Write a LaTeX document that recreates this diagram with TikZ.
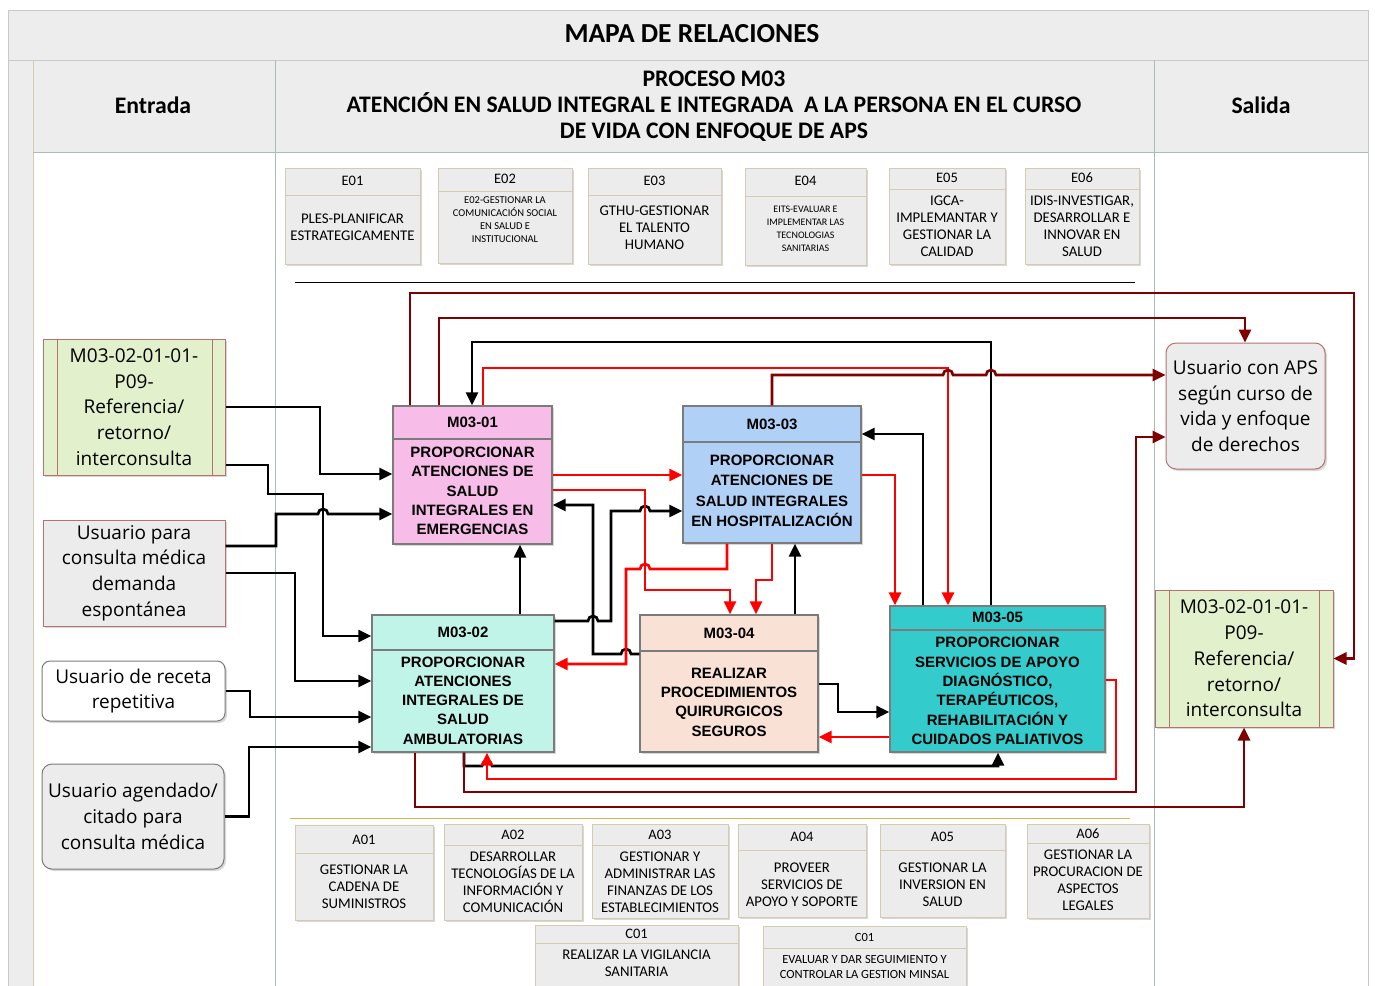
\documentclass[tikz,border=0pt]{standalone}
\usepackage{fontspec}
\setmainfont{Carlito}
\newfontfamily\procfont{Liberation Sans}
\newfontfamily\userfont{Open Sans}
\usetikzlibrary{arrows.meta,shadows}

\definecolor{pinkbox}{HTML}{F7BDE8}
\definecolor{bluebox}{HTML}{B0D0F6}
\definecolor{mintbox}{HTML}{C1F4E8}
\definecolor{peachbox}{HTML}{F9E2D5}
\definecolor{tealbox}{HTML}{33CBCB}
\definecolor{greenbox}{HTML}{E2F0CB}
\definecolor{greybox}{HTML}{ECECEC}
\definecolor{bandgrey}{HTML}{EDEDED}
\definecolor{beigeln}{HTML}{D3CCB2}
\definecolor{frameln}{HTML}{C9C9C9}
\definecolor{colln}{HTML}{A8BDB6}
\definecolor{brownln}{HTML}{B5726E}
\definecolor{procln}{HTML}{7B7B7B}
\definecolor{darkred}{HTML}{7F0000}
\definecolor{goldln}{HTML}{D8B552}

\tikzset{
  supbox/.style={draw=beigeln, fill=greybox, line width=1pt, inner sep=0,
    drop shadow={shadow xshift=2pt, shadow yshift=-2pt, opacity=0.3}},
  supline/.style={draw=beigeln, line width=1pt},
  suplabel/.style={font=\fontsize{14.5}{17}\selectfont, inner sep=0},
  suptxt/.style={font=\fontsize{14.8}{17}\selectfont, align=center, inner sep=0},
  proc/.style={draw=procln, line width=1.2pt, inner sep=0,
    drop shadow={shadow xshift=2pt, shadow yshift=-2pt, opacity=0.3}},
  procline/.style={draw=procln, line width=1.2pt},
  prochead/.style={font=\procfont\bfseries\fontsize{15}{19}\selectfont, inner sep=0},
  proctxt/.style={font=\procfont\bfseries\fontsize{15}{19.3}\selectfont, align=center, inner sep=0},
  usrbox/.style={draw=brownln, line width=1pt, inner sep=0, align=center,
    font=\userfont\fontsize{19}{25.7}\selectfont,
    drop shadow={shadow xshift=2pt, shadow yshift=-2pt, opacity=0.3}},
  hdr/.style={font=\bfseries\fontsize{23.7}{26}\selectfont, align=center, inner sep=0},
  blk/.style={draw=black, line width=2.7pt, -{Triangle[length=13pt,width=12pt]}},
  rd/.style={draw=red, line width=2.7pt, -{Triangle[length=13pt,width=12pt]}},
  drd/.style={draw=darkred, line width=2.7pt, -{Triangle[length=13pt,width=12pt]}}
}

\begin{document}
\begin{tikzpicture}[x=1pt,y=1pt,yscale=-1]
\useasboundingbox (0,0) rectangle (1375,985);
\clip (0,0) rectangle (1375,985);

% marco y cabecera
\fill[white] (0,0) rectangle (1375,985);
\fill[bandgrey] (8,10) rectangle (1368,152);
\fill[bandgrey] (8,152) rectangle (33,990);
\draw[frameln, line width=1pt] (8,10) rectangle (1368,990);
\draw[frameln, line width=1pt] (8,60) -- (1368,60);
\draw[beigeln, line width=1pt] (33,60) -- (33,990);
\draw[colln, line width=1pt] (275,60) -- (275,990);
\draw[colln, line width=1pt] (1154,60) -- (1154,990);
\draw[colln, line width=1pt] (33,152) -- (1368,152);

\node[hdr, font=\bfseries\fontsize{27.5}{30}\selectfont] (titulo) at (692,34) {MAPA DE RELACIONES};
\node[hdr] (entrada) at (153,105) {Entrada};
\node[hdr] (proceso) at (714,106) {PROCESO M03\\ATENCIÓN EN SALUD INTEGRAL E INTEGRADA~ A LA PERSONA EN EL CURSO\\DE VIDA CON ENFOQUE DE APS};
\node[hdr] (salida) at (1261,105) {Salida};

% procesos estrategicos
\node[supbox, minimum width=135, minimum height=96] (e01) at (352.5,216) {};
\draw[supline] (e01.west |- 0,195) -- (e01.east |- 0,195);
\node[suplabel] (e01t) at (352.5,181) {E01};
\node[suptxt] (e01b) at (352.5,227) {PLES-PLANIFICAR\\ESTRATEGICAMENTE};

\node[supbox, minimum width=134, minimum height=95] (e02) at (505,215.5) {};
\draw[supline] (e02.west |- 0,191) -- (e02.east |- 0,191);
\node[suplabel] (e02t) at (505,179) {E02};
\node[suptxt, font=\fontsize{10.5}{13}\selectfont] (e02b) at (505,219.5) {E02-GESTIONAR LA\\COMUNICACIÓN SOCIAL\\EN SALUD E\\INSTITUCIONAL};

\node[supbox, minimum width=133, minimum height=96] (e03) at (654.5,216) {};
\draw[supline] (e03.west |- 0,195) -- (e03.east |- 0,195);
\node[suplabel] (e03t) at (654.5,181) {E03};
\node[suptxt] (e03b) at (654.5,227.5) {GTHU-GESTIONAR\\EL TALENTO\\HUMANO};

\node[supbox, minimum width=121, minimum height=97] (e04) at (805.5,216.5) {};
\draw[supline] (e04.west |- 0,196) -- (e04.east |- 0,196);
\node[suplabel] (e04t) at (805.5,181) {E04};
\node[suptxt, font=\fontsize{10}{13}\selectfont] (e04b) at (805.5,228.5) {EITS-EVALUAR E\\IMPLEMENTAR LAS\\TECNOLOGIAS\\SANITARIAS};

\node[supbox, minimum width=116, minimum height=96] (e05) at (947,216) {};
\draw[supline] (e05.west |- 0,189) -- (e05.east |- 0,189);
\node[suplabel] (e05t) at (947,178) {E05};
\node[suptxt] (e05b) at (947,226) {IGCA-\\IMPLEMANTAR Y\\GESTIONAR LA\\CALIDAD};

\node[supbox, minimum width=114, minimum height=96] (e06) at (1082,216) {};
\draw[supline] (e06.west |- 0,189) -- (e06.east |- 0,189);
\node[suplabel] (e06t) at (1082,178) {E06};
\node[suptxt] (e06b) at (1082,226) {IDIS-INVESTIGAR,\\DESARROLLAR E\\INNOVAR EN\\SALUD};

\draw[black, line width=1pt] (295,282) -- (1135,282);
\draw[goldln, line width=1pt] (290,818) -- (1130,818);

% entradas
\node[usrbox, fill=greenbox, minimum width=182, minimum height=136] (inRef) at (134,407) {M03-02-01-01-\\P09-\\Referencia/\\retorno/\\interconsulta};
\draw[brownln, line width=1pt] (57,339) -- (57,475) (212,339) -- (212,475);
\node[usrbox, fill=greybox, minimum width=182, minimum height=106] (inDem) at (134,573) {Usuario para\\consulta médica\\demanda\\espontánea};
\node[usrbox, draw=procln, fill=white, rounded corners=8pt, minimum width=183, minimum height=60] (inRec) at (133.5,691) {Usuario de receta\\repetitiva};
\node[usrbox, draw=procln, fill=greybox, rounded corners=10pt, minimum width=182, minimum height=105] (inAge) at (133,816.5) {Usuario agendado/\\citado para\\consulta médica};

% salidas
\node[usrbox, fill=greybox, rounded corners=10pt, minimum width=159, minimum height=126] (outAps) at (1245.5,406) {Usuario con APS\\según curso de\\vida y enfoque\\de derechos};
\node[usrbox, fill=greenbox, minimum width=178, minimum height=137] (outRef) at (1244,658.5) {M03-02-01-01-\\P09-\\Referencia/\\retorno/\\interconsulta};
\draw[brownln, line width=1pt] (1169,590) -- (1169,727) (1319,590) -- (1319,727);

% procesos M03
\node[proc, fill=pinkbox, minimum width=159, minimum height=138] (m01) at (472.5,475) {};
\draw[procline] (m01.west |- 0,439) -- (m01.east |- 0,439);
\node[prochead] (m01h) at (472.5,422.5) {M03-01};
\node[proctxt] (m01b) at (472.5,491) {PROPORCIONAR\\ATENCIONES DE\\SALUD\\INTEGRALES EN\\EMERGENCIAS};

\node[proc, fill=bluebox, minimum width=178, minimum height=137] (m03) at (772,474.5) {};
\draw[procline] (m03.west |- 0,442) -- (m03.east |- 0,442);
\node[prochead] (m03h) at (772,424) {M03-03};
\node[proctxt, font=\procfont\bfseries\fontsize{15}{20.5}\selectfont] (m03b) at (772,491) {PROPORCIONAR\\ATENCIONES DE\\SALUD INTEGRALES\\EN HOSPITALIZACIÓN};

\node[proc, fill=mintbox, minimum width=182, minimum height=137] (m02) at (463,683.5) {};
\draw[procline] (m02.west |- 0,650) -- (m02.east |- 0,650);
\node[prochead] (m02h) at (463,632.5) {M03-02};
\node[proctxt] (m02b) at (463,700.5) {PROPORCIONAR\\ATENCIONES\\INTEGRALES DE\\SALUD\\AMBULATORIAS};

\node[proc, fill=peachbox, minimum width=178, minimum height=137] (m04) at (729,683.5) {};
\draw[procline] (m04.west |- 0,651) -- (m04.east |- 0,651);
\node[prochead] (m04h) at (729,633.5) {M03-04};
\node[proctxt] (m04b) at (729,702) {REALIZAR\\PROCEDIMIENTOS\\QUIRURGICOS\\SEGUROS};

\node[proc, fill=tealbox, minimum width=215, minimum height=146] (m05) at (997.5,679) {};
\draw[procline] (m05.west |- 0,630) -- (m05.east |- 0,630);
\node[prochead] (m05h) at (997.5,617.5) {M03-05};
\node[proctxt] (m05b) at (997.5,691) {PROPORCIONAR\\SERVICIOS DE APOYO\\DIAGNÓSTICO,\\TERAPÉUTICOS,\\REHABILITACIÓN Y\\CUIDADOS PALIATIVOS};

% procesos de apoyo
\node[supbox, minimum width=138, minimum height=95] (a01) at (364,872.5) {};
\draw[supline] (a01.west |- 0,853) -- (a01.east |- 0,853);
\node[suplabel] (a01t) at (364,840) {A01};
\node[suptxt] (a01b) at (364,887) {GESTIONAR LA\\CADENA DE\\SUMINISTROS};

\node[supbox, minimum width=138, minimum height=96] (a02) at (513,872) {};
\draw[supline] (a02.west |- 0,845) -- (a02.east |- 0,845);
\node[suplabel] (a02t) at (513,835) {A02};
\node[suptxt] (a02b) at (513,882.5) {DESARROLLAR\\TECNOLOGÍAS DE LA\\INFORMACIÓN Y\\COMUNICACIÓN};

\node[supbox, minimum width=136, minimum height=94] (a03) at (660,871) {};
\draw[supline] (a03.west |- 0,845) -- (a03.east |- 0,845);
\node[suplabel] (a03t) at (660,835) {A03};
\node[suptxt] (a03b) at (660,882.5) {GESTIONAR Y\\ADMINISTRAR LAS\\FINANZAS DE LOS\\ESTABLECIMIENTOS};

\node[supbox, minimum width=128, minimum height=93] (a04) at (802,870.5) {};
\draw[supline] (a04.west |- 0,850) -- (a04.east |- 0,850);
\node[suplabel] (a04t) at (802,837) {A04};
\node[suptxt] (a04b) at (802,885) {PROVEER\\SERVICIOS DE\\APOYO Y SOPORTE};

\node[supbox, minimum width=125, minimum height=93] (a05) at (942.5,870.5) {};
\draw[supline] (a05.west |- 0,850) -- (a05.east |- 0,850);
\node[suplabel] (a05t) at (942.5,837) {A05};
\node[suptxt] (a05b) at (942.5,884.5) {GESTIONAR LA\\INVERSION EN\\SALUD};

\node[supbox, minimum width=122, minimum height=94] (a06) at (1088,871) {};
\draw[supline] (a06.west |- 0,843) -- (a06.east |- 0,843);
\node[suplabel] (a06t) at (1088,834) {A06};
\node[suptxt] (a06b) at (1088,880.5) {GESTIONAR LA\\PROCURACION DE\\ASPECTOS\\LEGALES};

\node[supbox, minimum width=203, minimum height=70] (c01a) at (636.5,960) {};
\draw[supline] (c01a.west |- 0,943) -- (c01a.east |- 0,943);
\node[suplabel] (c01at) at (636.5,934) {C01};
\node[suptxt] (c01ab) at (636.5,963) {REALIZAR LA VIGILANCIA\\SANITARIA};

\node[supbox, minimum width=203, minimum height=70] (c01b) at (864.5,961) {};
\draw[supline] (c01b.west |- 0,948) -- (c01b.east |- 0,948);
\node[suplabel, font=\fontsize{12.5}{15}\selectfont] (c01bt) at (864.5,937) {C01};
\node[suptxt, font=\fontsize{12.5}{15}\selectfont] (c01bb) at (864.5,967) {EVALUAR Y DAR SEGUIMIENTO Y\\CONTROLAR LA GESTION MINSAL};

% entradas -> procesos
\draw[blk] (inRef.east) -| (320,474) -- (m01.west |- 0,474);
\draw[blk] (inRef.east |- 0,465) -| (268,494) -| (323,636) -- (m02.west |- 0,636);
\draw[blk] (inDem.east |- 0,546) -| (276,514) -- (318,514) arc[start angle=180, end angle=360, radius=5] -- (m01.west |- 0,514);
\draw[blk] (inDem.east) -| (295,681) -- (m02.west |- 0,681);
\draw[blk] (inRec.east) -| (250,717) -- (m02.west |- 0,717);
\draw[blk] (inAge.east) -| (249,747) -- (m02.west |- 0,747);

% conexiones negras
\draw[blk] (m02.north -| 520,0) -- (m01.south -| 520,0);
\draw[blk] (m02.east |- 0,621) -- (588,621) arc[start angle=180, end angle=360, radius=5] -| (611,511) -- (640,511) arc[start angle=180, end angle=360, radius=5] -- (m03.west |- 0,511);
\draw[blk] (m04.west |- 0,654) -- (631,654) arc[start angle=0, end angle=-180, radius=5] -| (593,505) -- (m01.east |- 0,505);
\draw[blk] (m04.north -| 795,0) -- (m03.south -| 795,0);
\draw[blk] (m04.east |- 0,684) -| (838,712) -- (m05.west |- 0,712);
\draw[blk] (m05.north -| 923,0) |- (m03.east |- 0,434);
\draw[blk] (m05.north -| 991,0) |- (472,342) -- (m01.north -| 472,0);
\draw[blk] (m02.south -| 464,0) |- (482,766) arc[start angle=180, end angle=360, radius=5] -| (m05.south -| 998,0);

% conexiones rojas
\draw[rd] (m01.east |- 0,475) -- (m03.west |- 0,475);
\draw[rd] (m01.north -| 483,0) |- (948,368) -- (m05.north -| 948,0);
\draw[rd] (m01.east |- 0,490) -| (645,590) -| (m04.north -| 730,0);
\draw[rd] (m03.south -| 727,0) |- (650,569) arc[start angle=0, end angle=-180, radius=5] -| (626,664) -- (m02.east |- 0,664);
\draw[rd] (m03.south -| 772,0) |- (756,580) -- (m04.north -| 756,0);
\draw[rd] (m03.east |- 0,475) -| (m05.north -| 895,0);
\draw[rd] (m05.west |- 0,737) -- (m04.east |- 0,737);
\draw[rd] (m05.east |- 0,680) -| (1116,779) -| (m02.south -| 487,0);

% salidas
\draw[drd] (m01.north -| 410,0) |- (1354,293) |- (outRef.east);
\draw[drd] (m01.north -| 439,0) |- (1245,318) -- (outAps.north -| 1245,0);
\draw[drd] (m03.north -| 772,0) |- (943,375) arc[start angle=180, end angle=360, radius=5] -- (986,375) arc[start angle=180, end angle=360, radius=5] -- (outAps.west |- 0,375);
\draw[drd] (m02.south -| 464,0) |- (1136,792) |- (outAps.west |- 0,437);
\draw[drd] (m02.south -| 415,0) |- (1244,807) -- (outRef.south -| 1244,0);

\end{tikzpicture}
\end{document}
